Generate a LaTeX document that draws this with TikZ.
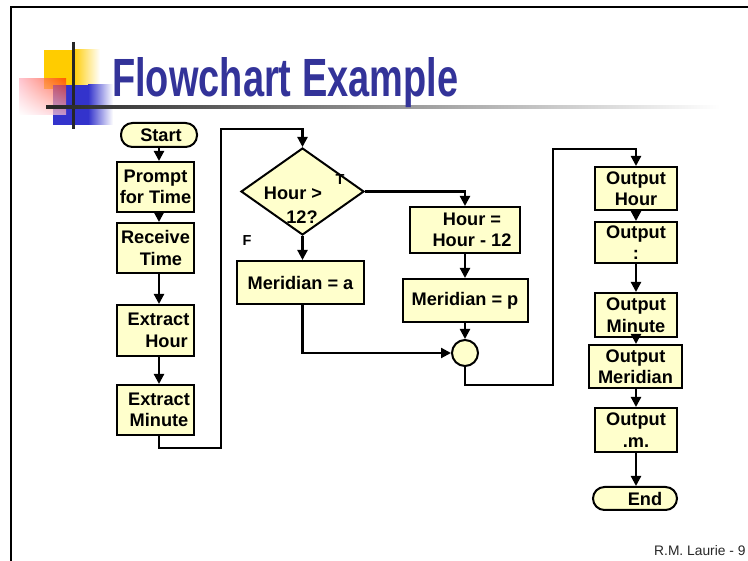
\documentclass[tikz,border=0pt]{standalone}
\usepackage{fontspec}
\setmainfont{Liberation Sans}
\usetikzlibrary{shapes.geometric,arrows.meta,shadings}
\definecolor{boxfill}{HTML}{FFFFCC}
\definecolor{titleblue}{HTML}{333399}
\definecolor{decoyellow}{HTML}{FFCC00}
\definecolor{decoblue}{HTML}{3333CC}
\definecolor{decored}{HTML}{FF3300}
\definecolor{decopink}{HTML}{FFB0C0}
\newcommand{\boxfont}{\bfseries\fontsize{18.2}{21.5}\selectfont}
\newcommand{\titletext}{\resizebox{346pt}{39pt}{\bfseries Flowchart Example}}
\tikzset{
  box/.style={draw, fill=boxfill, line width=2pt, rectangle, inner sep=0pt, align=center, font=\boxfont},
  term/.style={box, rounded corners=11.5pt},
  conn/.style={line width=2.2pt, -{Triangle[length=10pt,width=10pt]}},
  smalllab/.style={font=\bfseries\fontsize{14.5}{16}\selectfont, inner sep=0pt},
}
\begin{document}
\begin{tikzpicture}[x=1pt,y=-1pt]
\useasboundingbox (0,0) rectangle (748,561);
\clip (0,0) rectangle (748,561);
% frame
\draw[line width=2.8pt] (11,7) rectangle (800,620);
% decoration
\fill[decoyellow] (44,50) rectangle (73,89);
\shade[left color=decoyellow, right color=white] (73,50) rectangle (100,89);
\fill[decoblue] (53,85) rectangle (88,125);
\shade[left color=decoblue, right color=white] (88,85) rectangle (113,125);
\shade[upper right=decored, upper left=decopink, lower right=decopink!80, lower left=white, fill opacity=0.7] (19,79) rectangle (66,115);
\draw[line width=3pt, black!85] (73,42) -- (73,129);
\shade[left color=black!85, right color=white] (46,105.5) rectangle (720,108.5);
% title
\node[anchor=base west, inner sep=0pt, text=titleblue] (title) at (112,97) {\titletext};
% left column
\node[term, minimum width=76pt, minimum height=24pt] (start) at (159,135) {\hspace*{4pt}Start};
\node[box, minimum width=77pt, minimum height=50pt] (prompt) at (155.5,187) {Prompt\\for Time};
\node[box, minimum width=77pt, minimum height=50pt] (receive) at (155.5,248) {Receive\\\hspace*{11pt}Time};
\node[box, minimum width=77pt, minimum height=51pt] (exthour) at (155.5,330.5) {\hspace*{6pt}Extract\\\hspace*{22pt}Hour};
\node[box, minimum width=77pt, minimum height=50pt] (extmin) at (155.5,410) {\hspace*{7pt}Extract\\\hspace*{7pt}Minute};
% middle
\node[draw, fill=boxfill, line width=2pt, diamond, aspect=1.41, minimum width=123pt, minimum height=87pt, inner sep=0pt] (dia) at (302.5,191.5) {};
\node[font=\bfseries\fontsize{18.2}{24.5}\selectfont, align=center, inner sep=0pt] (diatext) at (293,205) {Hour >\\\hspace*{18pt}12?};
\node[smalllab] (tlab) at (340,180) {T};
\node[smalllab] (flab) at (247,241) {F};
\node[box, minimum width=127pt, minimum height=43pt] (mera) at (300.5,282.5) {Meridian = a};
\node[box, minimum width=110pt, minimum height=46pt] (hoursub) at (465,230) {\hspace*{14pt}Hour =\\\hspace*{14pt}Hour - 12};
\node[box, minimum width=125pt, minimum height=43pt] (merp) at (465,300.5) {Meridian = p};
\node[draw, fill=boxfill, line width=2pt, circle, minimum size=26pt, inner sep=0pt] (jn) at (465,353) {};
% right column
\node[box, minimum width=82pt, minimum height=43pt] (ohour) at (636,188.5) {Output\\Hour};
\node[box, minimum width=82pt, minimum height=41pt] (ocolon) at (636,242.5) {Output\\:};
\node[box, minimum width=82pt, minimum height=44pt] (omin) at (636,315) {Output\\Minute};
\node[box, minimum width=93pt, minimum height=43pt] (omer) at (635.5,366.5) {Output\\Meridian};
\node[box, minimum width=82pt, minimum height=44pt] (om) at (636,430) {Output\\.m.};
\node[term, minimum width=84pt, minimum height=23pt] (end) at (635,498.5) {\hspace*{20pt}End};
% footer
\node[anchor=base west, inner sep=0pt, font=\fontsize{13.8}{16}\selectfont, text=black!85] (footer) at (654,555) {R.M. Laurie - 9};
% helper coordinates
\coordinate (c1) at (221,448);
\coordinate (c2) at (221,129);
\coordinate (c3) at (553,385);
\coordinate (c4) at (553,149);
% connectors left column
\draw[conn] (start.south) -- (start.south |- prompt.north);
\draw[conn] (start.south |- prompt.south) -- (start.south |- receive.north);
\draw[conn] (start.south |- receive.south) -- (start.south |- exthour.north);
\draw[conn] (start.south |- exthour.south) -- (start.south |- extmin.north);
\draw[conn] (start.south |- extmin.south) |- (c1) -- (c2) -| (dia.north);
% middle
\draw[conn] (dia.east) -| (hoursub.north);
\draw[conn] (dia.south) -- (dia.south |- mera.north);
\draw[conn] (hoursub.south) -- (merp.north);
\draw[conn] (merp.south) -- (jn.north);
\draw[conn] (dia.south |- mera.south) |- (jn.west);
\draw[conn] (jn.south) |- (c3) -- (c4) -| (ohour.north);
% right column
\draw[conn] (ohour.south) -- (ocolon.north);
\draw[conn] (ocolon.south) -- (omin.north);
\draw[conn] (omin.south) -- (omin.south |- omer.north);
\draw[conn] (omin.south |- omer.south) -- (om.north);
\draw[conn] (om.south) -- (om.south |- end.north);
\end{tikzpicture}
\end{document}
